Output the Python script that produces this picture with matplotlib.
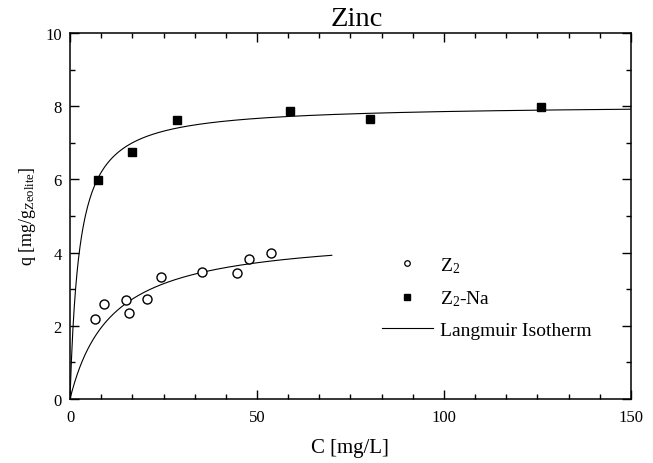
import numpy as np
import matplotlib
matplotlib.use("Agg")
import matplotlib.pyplot as plt
from matplotlib.ticker import MultipleLocator

plt.rcParams["font.family"] = "Liberation Serif"
plt.rcParams["mathtext.fontset"] = "custom"
plt.rcParams["mathtext.rm"] = "Liberation Serif"
plt.rcParams["mathtext.it"] = "Liberation Serif:italic"

# measured points
c_z2 = [6.8, 9.2, 15.1, 15.7, 20.6, 24.2, 35.4, 44.7, 47.8, 53.8]
q_z2 = [2.19, 2.60, 2.70, 2.36, 2.72, 3.33, 3.47, 3.43, 3.83, 4.00]
c_na = [7.4, 16.7, 28.5, 58.7, 80.1, 126.0]
q_na = [5.98, 6.76, 7.62, 7.86, 7.65, 7.97]

# Langmuir fit parameters (qmax, K, C range)
qmax_z2, k_z2, cmax_z2 = 4.55, 0.09, 70
qmax_na, k_na, cmax_na = 8.05, 0.40, 150


def langmuir(c, qm, k):
    return qm * k * c / (1 + k * c)


fig = plt.figure(figsize=(6.53, 4.64), dpi=100)
ax = fig.add_axes([0.1072, 0.1379, 0.8591, 0.7888])

cz = np.linspace(0, cmax_z2, 400)
cn = np.linspace(0, cmax_na, 800)
ax.plot(cz, langmuir(cz, qmax_z2, k_z2), color="black", lw=0.8)
ax.plot(cn, langmuir(cn, qmax_na, k_na), color="black", lw=0.8)
ax.plot(c_z2, q_z2, "o", mfc="white", mec="black", mew=1.0, ms=6.5)
ax.plot(c_na, q_na, "s", color="black", ms=6)

ax.set_xlim(0, 150)
ax.set_ylim(0, 10)
ax.xaxis.set_major_locator(MultipleLocator(50))
ax.xaxis.set_minor_locator(MultipleLocator(50 / 6))
ax.yaxis.set_major_locator(MultipleLocator(2))
ax.yaxis.set_minor_locator(MultipleLocator(1))
ax.tick_params(which="both", direction="in", top=True, right=True, labelsize=12)
ax.tick_params(which="major", length=6.5, width=1)
ax.tick_params(which="minor", length=3.6, width=1)
ax.tick_params(axis="x", pad=7)
ax.tick_params(axis="y", pad=6)
for s in ax.spines.values():
    s.set_linewidth(1.1)

ax.set_title("Zinc", fontsize=20.5, x=0.512, pad=6)
# axis labels placed in figure pixels
fig.text(350 / 653, 1 - 449 / 464, "C [mg/L]", fontsize=15, ha="center", va="center")
fig.text(28 / 653, 1 - 216 / 464, r"q [mg/g$_{\mathrm{Zeolite}}$]", fontsize=13,
         rotation=90, ha="center", va="center")

h1, = ax.plot([], [], "o", mfc="white", mec="black", mew=0.9, ms=4)
h2, = ax.plot([], [], "s", color="black", ms=4.5)
h3, = ax.plot([], [], color="black", lw=0.8)
ax.legend([h1, h2, h3], [r"Z$_2$", r"Z$_2$-Na", "Langmuir Isotherm"],
          loc="upper left", bbox_to_anchor=(381.7 / 653, 1 - 256 / 464),
          bbox_transform=fig.transFigure, frameon=False, fontsize=14,
          handlelength=2.65, handletextpad=0.33, labelspacing=0.7,
          borderpad=0, borderaxespad=0)

fig.savefig("out.png", dpi=100)
